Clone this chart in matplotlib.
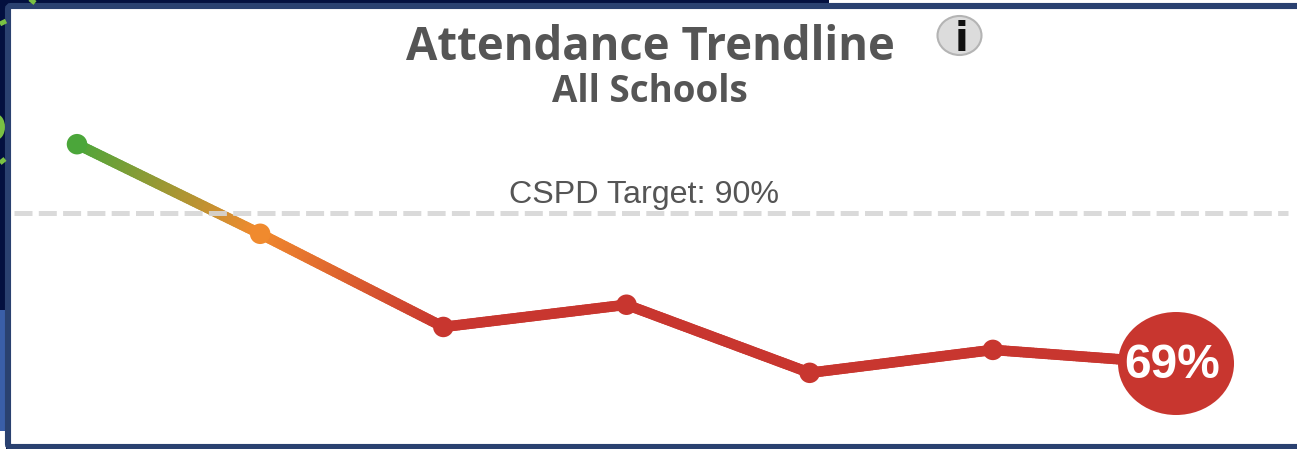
#!/usr/bin/env python
import matplotlib
matplotlib.use('Agg')
import matplotlib.pyplot as plt
import numpy as np
from matplotlib.collections import LineCollection
from matplotlib.colors import LinearSegmentedColormap, to_rgb
from matplotlib.patches import Ellipse, FancyBboxPatch, Rectangle

# attendance readings, oldest first
periods = [0, 1, 2, 3, 4, 5, 6]
attendance = [99.6, 87.1, 74.1, 77.2, 67.7, 70.9, 69]
point_colors = ['#4ba63a', '#f08a2e', '#c8362f', '#c8362f', '#c8362f', '#c8362f', '#c8362f']
target = 90

W, H = 1297, 449
X0, DX = 77, 183.17      # pixel of the first period, pixels per period
Y_TARGET, DY = 213, 7.167  # pixel of the target line, pixels per percent

fig = plt.figure(figsize=(W / 100, H / 100), dpi=100)

# page behind the card
bg = fig.add_axes([0, 0, 1, 1])
bg.set_xlim(0, W)
bg.set_ylim(H, 0)
bg.axis('off')
bg.add_patch(Rectangle((0, 0), W, H, color='#03103f', lw=0))
bg.add_patch(Rectangle((0, 310), 6, 121, color='#3a5ea8', lw=0))
bg.add_patch(Rectangle((0, 431), 6, 18, color='white', lw=0))
bg.add_patch(Rectangle((829, 0), W - 829, 4, color='white', lw=0))
bg.plot([0, 6], [24, 21], color='#7ac143', lw=3.5, solid_capstyle='butt')
bg.plot([30, 35], [-1, 3], color='#7ac143', lw=3.5, solid_capstyle='butt')
bg.plot([0, 5], [163, 159], color='#7ac143', lw=3.5, solid_capstyle='butt')
bg.add_patch(Ellipse((-4, 127), 18, 26, color='#7ac143', lw=0))

# card
bg.add_patch(FancyBboxPatch((8, 6), W + 20, H - 8, boxstyle='round,pad=0,rounding_size=3',
                            fc='white', ec='#2a4170', lw=4.4))

ax = fig.add_axes([0, 0, 1, 1])
ax.set_xlim(-X0 / DX, (W - X0) / DX)
ax.set_ylim(target - (H - Y_TARGET) / DY, target + Y_TARGET / DY)
ax.axis('off')
ax.patch.set_alpha(0)

# trend line, fading from one point colour to the next
cmap_rgb = [to_rgb(c) for c in point_colors]
for i in range(len(periods) - 1):
    xs = np.linspace(periods[i], periods[i + 1], 60)
    ys = np.linspace(attendance[i], attendance[i + 1], 60)
    segs = np.stack([np.column_stack([xs[:-1], ys[:-1]]), np.column_stack([xs[1:], ys[1:]])], axis=1)
    cmap = LinearSegmentedColormap.from_list('seg', [cmap_rgb[i], cmap_rgb[i + 1]])
    lc = LineCollection(segs, colors=cmap(np.linspace(0, 1, 59)), linewidths=7.6, capstyle='round', zorder=2)
    ax.add_collection(lc)

ax.scatter(periods[:-1], attendance[:-1], s=(20.5 * 0.72) ** 2, c=point_colors[:-1], linewidths=0, zorder=3)

# target line sits over the trend
ax.plot([(14 - X0) / DX, (1288 - X0) / DX], [target, target], color='#d6d6d6', alpha=0.9, lw=3.6,
        linestyle=(0, (3.6, 1.26)), dash_capstyle='butt', zorder=4)
ax.text((644 - X0) / DX, target + 1.4, 'CSPD Target: %d%%' % target, ha='center', va='baseline',
        fontsize=23.2, family='Liberation Sans', color='#555555', zorder=5)

# latest value bubble
ax.add_patch(Ellipse((periods[-1], attendance[-1]), 116 / DX, 103 / DY, fc='#c8362f', ec='none', zorder=5))
ax.text(periods[-1] - 4 / DX, attendance[-1] - 0.3, '%d%%' % attendance[-1], ha='center', va='center',
        fontsize=34.5, fontweight='bold', family='Liberation Sans', color='white', zorder=6)

# headings and info icon, placed in pixels
bg.text(650, 60, 'Attendance Trendline', ha='center', va='baseline', fontsize=32.8, fontweight='bold',
        family='Open Sans', color='#555555')
bg.text(650, 102, 'All Schools', ha='center', va='baseline', fontsize=26.5, fontweight='bold',
        family='Open Sans', color='#555555')
bg.add_patch(Ellipse((959.5, 35.5), 44, 39, fc='#dcdcdc', ec='#b4b4b4', lw=1.5))
bg.text(961, 51, 'i', ha='center', va='baseline', fontsize=29, fontweight='bold', family='DejaVu Sans', color='#111111')

fig.savefig('out.png', dpi=100)
plt.clf()
